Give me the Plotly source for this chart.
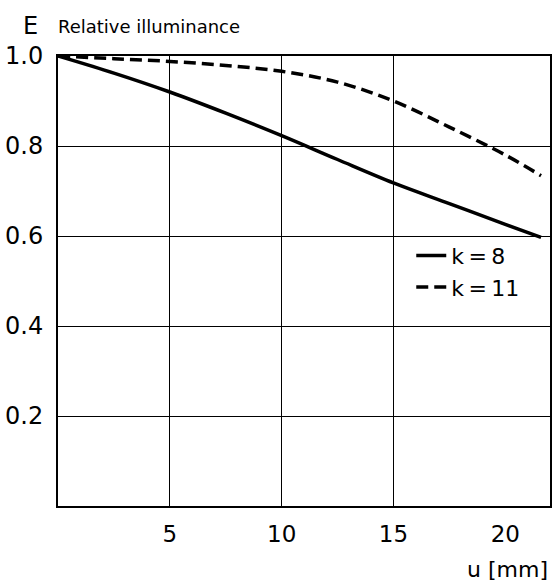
import plotly.graph_objects as go

# Data
u_k8 = [0, 2.5, 5, 7.5, 10, 12.5, 15, 17.5, 20, 21.6]
e_k8 = [1.0, 0.962, 0.920, 0.873, 0.823, 0.770, 0.718, 0.672, 0.626, 0.597]
u_k11 = [0, 2.5, 5, 7.5, 10, 12.5, 15, 17.5, 20, 21.6]
e_k11 = [1.0, 0.994, 0.988, 0.979, 0.966, 0.942, 0.900, 0.842, 0.780, 0.734]

x_tick_vals = [5, 10, 15, 20]
x_grid_vals = [5, 10, 15]
y_tick_vals = [0.2, 0.4, 0.6, 0.8, 1.0]
y_tick_text = ["0.2", "0.4", "0.6", "0.8", "1.0"]

FONT = "DejaVu Sans"

fig = go.Figure()
fig.add_trace(go.Scatter(x=u_k8, y=e_k8, mode="lines", name="k\u2009=\u20098",
                         line=dict(color="black", width=3.5, shape="spline")))
fig.add_trace(go.Scatter(x=u_k11, y=e_k11, mode="lines", name="k\u2009=\u200911",
                         line=dict(color="black", width=3.5, dash="12px,6px", shape="spline")))
# invisible trace to carry the grid axis
fig.add_trace(go.Scatter(x=u_k8, y=e_k8, mode="lines", xaxis="x2", showlegend=False,
                         hoverinfo="skip", line=dict(color="rgba(0,0,0,0)", width=0)))

fig.update_layout(
    width=554, height=585,
    margin=dict(l=58, r=2, t=56, b=79),
    paper_bgcolor="white", plot_bgcolor="white",
    font=dict(family=FONT, color="black"),
    showlegend=True,
    legend=dict(x=0.718, y=0.603, xanchor="left", yanchor="top",
                bgcolor="rgba(0,0,0,0)", font=dict(size=22, family=FONT),
                tracegroupgap=0),
    xaxis=dict(range=[0, 22], tickmode="array", tickvals=x_tick_vals,
               showgrid=False, zeroline=False, showline=True, linecolor="black",
               linewidth=2, mirror=True, ticks="", ticklabelstandoff=6,
               tickfont=dict(size=23, family=FONT)),
    xaxis2=dict(range=[0, 22], overlaying="x", tickmode="array", tickvals=x_grid_vals,
                showgrid=True, gridcolor="black", gridwidth=1, showticklabels=False,
                zeroline=False, showline=False, ticks=""),
    yaxis=dict(range=[0, 1.0], tickmode="array", tickvals=y_tick_vals, ticktext=y_tick_text,
               showgrid=True, gridcolor="black", gridwidth=1, zeroline=False,
               showline=True, linecolor="black", linewidth=2, mirror=True, ticks="",
               ticklabelstandoff=8, tickfont=dict(size=24, family=FONT)),
    annotations=[
        dict(text="E", xref="paper", yref="paper", x=-0.075, y=1.066,
             xanchor="left", yanchor="middle", showarrow=False,
             font=dict(size=24, family=FONT)),
        dict(text="Relative illuminance", xref="paper", yref="paper", x=-0.004, y=1.066,
             xanchor="left", yanchor="middle", showarrow=False,
             font=dict(size=18, family=FONT)),
        dict(text="u [mm]", xref="paper", yref="paper", x=1.0, y=-0.141,
             xanchor="right", yanchor="middle", showarrow=False,
             font=dict(size=22, family=FONT)),
    ],
)

fig.write_html("out.html")
